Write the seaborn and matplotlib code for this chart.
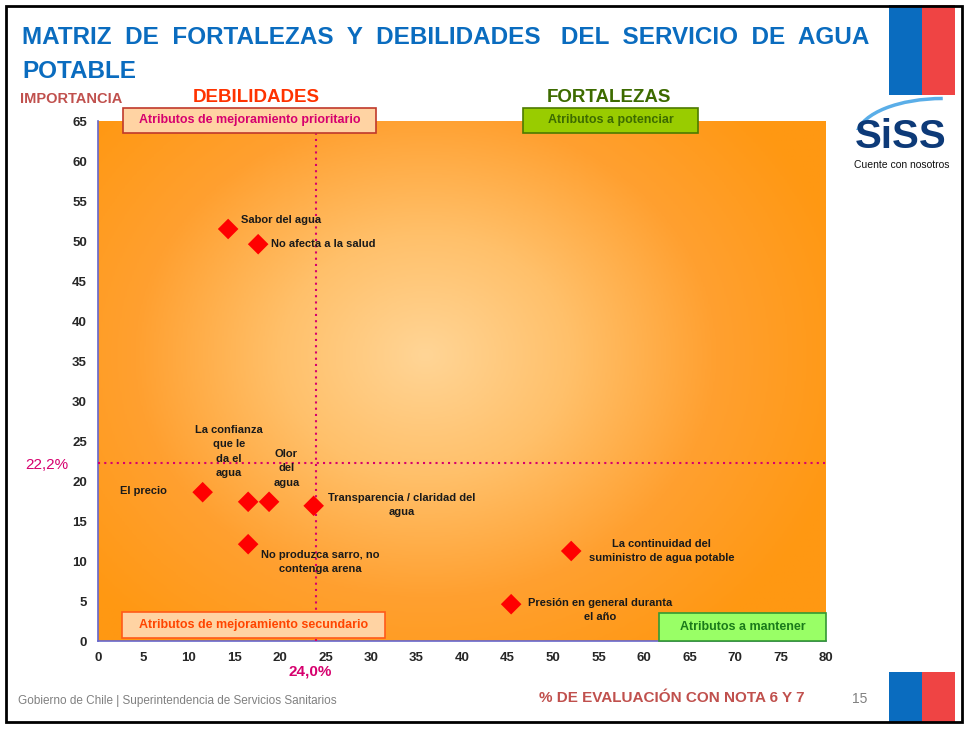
import numpy as np
import matplotlib.pyplot as plt
import seaborn as sns
from matplotlib.patches import Rectangle, Arc
from matplotlib.colors import LinearSegmentedColormap

# data
atributos = ["Sabor del agua", "No afecta a la salud", "El precio",
             "La confianza\nque le\nda el\nagua", "Olor\ndel\nagua",
             "Transparencia / claridad del\nagua", "No produzca sarro, no\ncontenga arena",
             "La continuidad del\nsuministro de agua potable", "Presión en general duranta\nel año"]
evaluacion = [14.3, 17.6, 11.5, 16.5, 18.8, 23.7, 16.5, 52.0, 45.4]
importancia = [51.5, 49.6, 18.6, 17.4, 17.4, 16.9, 12.1, 11.25, 4.6]
x_ticks = list(range(0, 85, 5))
y_ticks = list(range(0, 70, 5))
corte_x = 24.0
corte_y = 22.2

sns.set_theme(style="white")
plt.rcParams['font.family'] = ['Liberation Sans', 'DejaVu Sans']

fig = plt.figure(figsize=(9.68, 7.29), dpi=100)
ax = fig.add_axes([98/968, 1-641/729, 728/968, 520/729])

# radial orange gradient background
gx, gy = np.meshgrid(np.linspace(0, 1, 300), np.linspace(0, 1, 300))
r = np.sqrt(((gx - 0.45) / 0.6) ** 2 + ((gy - 0.55) / 0.7) ** 2)
cmap = LinearSegmentedColormap.from_list("bg", ["#ffd596", "#ffc06a", "#ffa030", "#ff9812"])
ax.imshow(np.clip(r, 0, 1), cmap=cmap, extent=[0, 80, 0, 65], aspect="auto",
          origin="lower", zorder=0, vmin=0, vmax=1)

sns.scatterplot(x=evaluacion, y=importancia, marker="D", s=110, color="#ff0000",
                edgecolor="none", ax=ax, zorder=4)

ax.axvline(corte_x, color="#d6006e", ls=(0, (1, 2)), lw=1.5, zorder=3)
ax.axhline(corte_y, color="#d6006e", ls=(0, (1, 2)), lw=1.5, zorder=3)

# label anchor points (data units) and alignment
etiquetas = [(15.7, 52.6, "left", "center"), (19.0, 49.6, "left", "center"),
             (7.6, 18.75, "right", "center"), (14.4, 27.0, "center", "top"),
             (20.7, 24.0, "center", "top"), (33.4, 17.0, "center", "center"),
             (24.4, 9.9, "center", "center"), (61.9, 11.25, "center", "center"),
             (55.2, 3.9, "center", "center")]
for name, (tx, ty, ha, va) in zip(atributos, etiquetas):
    ax.text(tx, ty, name, ha=ha, va=va, multialignment="center", fontsize=8,
            fontweight="bold", color="#1a1a1a", zorder=5, linespacing=1.55)

ax.set_xlim(0, 80)
ax.set_ylim(0, 65)
ax.set_xticks(x_ticks)
ax.set_yticks(y_ticks)
ax.tick_params(axis="both", labelsize=9.5, length=4, color="#6666cc", direction="out", pad=4)
for t in ax.get_xticklabels() + ax.get_yticklabels():
    t.set_fontweight("bold")
for s in ["top", "right"]:
    ax.spines[s].set_visible(False)
for s in ["left", "bottom"]:
    ax.spines[s].set_color("#6666cc")
    ax.spines[s].set_linewidth(1.2)

# quadrant tags
def caja(x0, y0, w, h, txt, fc, ec, tc):
    fig.patches.append(Rectangle((x0/968, 1-(y0+h)/729), w/968, h/729, transform=fig.transFigure,
                                 fc=fc, ec=ec, lw=1.2, zorder=10))
    fig.text((x0+w/2)/968, 1-(y0+h/2)/729, txt, ha="center", va="center",
             fontsize=9, fontweight="bold", color=tc, zorder=11)

caja(123, 108, 253, 25, "Atributos de mejoramiento prioritario", "#ffd3a3", "#c0392b", "#d6006e")
caja(523, 108, 175, 25, "Atributos a potenciar", "#99cc00", "#4d7a00", "#3d6b00")
caja(122, 612, 263, 26, "Atributos de mejoramiento secundario", "#ffd3a3", "#ff5a1a", "#ff4500")
caja(659, 613, 167, 28, "Atributos a mantener", "#99ff66", "#339933", "#1a7a1a")

# titles and annotations
fig.text(22/968, 1-37/729, "MATRIZ  DE  FORTALEZAS  Y  DEBILIDADES   DEL  SERVICIO  DE  AGUA",
         fontsize=17.5, fontweight="bold", color="#0a6cbf", va="center")
fig.text(22/968, 1-71/729, "POTABLE", fontsize=17.5, fontweight="bold", color="#0a6cbf", va="center")
fig.text(20/968, 1-99/729, "IMPORTANCIA", fontsize=10.5, fontweight="bold", color="#c0504d", va="center")
fig.text(256/968, 1-98/729, "DEBILIDADES", fontsize=13.5, fontweight="bold", color="#ff3300",
         ha="center", va="center")
fig.text(609/968, 1-98/729, "FORTALEZAS", fontsize=13.5, fontweight="bold", color="#3d6b00",
         ha="center", va="center")
fig.text(47/968, 1-465/729, "22,2%", fontsize=11, color="#d6006e", ha="center", va="center")
fig.text(310/968, 1-672/729, "24,0%", fontsize=11, fontweight="bold", color="#d6006e",
         ha="center", va="center")
fig.text(672/968, 1-698/729, "% DE EVALUACIÓN CON NOTA 6 Y 7", fontsize=11, fontweight="bold",
         color="#c0504d", ha="center", va="center")
fig.text(18/968, 1-701/729, "Gobierno de Chile | Superintendencia de Servicios Sanitarios",
         fontsize=8.5, color="#808080", va="center")
fig.text(860/968, 1-699/729, "15", fontsize=10, color="#808080", ha="center", va="center")

# flag stripes
for y0, h in [(5, 90), (672, 50)]:
    fig.patches.append(Rectangle((889/968, 1-(y0+h)/729), 33/968, h/729, transform=fig.transFigure,
                                 fc="#0a6cbf", ec="none", zorder=10))
    fig.patches.append(Rectangle((922/968, 1-(y0+h)/729), 33/968, h/729, transform=fig.transFigure,
                                 fc="#ef4444", ec="none", zorder=10))

# SISS logo
fig.text(901/968, 1-137/729, "SiSS", fontsize=29, fontweight="bold", color="#0d3a78",
         ha="center", va="center")
fig.text(902/968, 1-165/729, "Cuente con nosotros", fontsize=7.5, color="#111111",
         ha="center", va="center")
lax = fig.add_axes([845/968, 1-130/729, 115/968, 35/729])
lax.add_patch(Arc((0.85, -0.2), 1.5, 2.2, theta1=90, theta2=170, color="#5aaee8", lw=2.5))
lax.set_xlim(0, 1)
lax.set_ylim(0, 1)
lax.axis("off")

# page frame
fig.patches.append(Rectangle((6/968, 1-722/729), 956/968, 716/729, transform=fig.transFigure,
                             fc="none", ec="black", lw=2, zorder=20))

fig.savefig("out.png", dpi=100)
